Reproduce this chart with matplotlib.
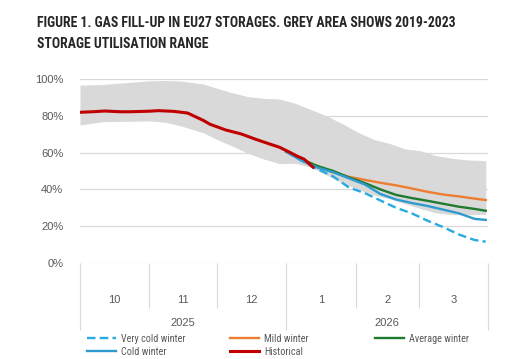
"""
Gas fill-up in EU27 storages, winter 2025/26 scenarios against the
2019-2023 utilisation range.
"""

import matplotlib
matplotlib.use("Agg")
import matplotlib.pyplot as plt
import matplotlib.dates as mdates
import matplotlib.transforms as mtransforms
from matplotlib import font_manager
import numpy as np

# 2019-2023 range (grey band), % full
band_dates = ["2025-10-01", "2025-10-11", "2025-10-21", "2025-11-01", "2025-11-08",
              "2025-11-15", "2025-11-25", "2025-12-01", "2025-12-08", "2025-12-15",
              "2025-12-22", "2025-12-29", "2026-01-05", "2026-01-12", "2026-01-19",
              "2026-01-26", "2026-02-02", "2026-02-09", "2026-02-16", "2026-02-23",
              "2026-03-02", "2026-03-09", "2026-03-16", "2026-03-23", "2026-03-31"]
band_upper = [96.7, 97.0, 98.0, 99.0, 99.2, 98.9, 97.3, 95.0, 92.5, 90.4, 89.5, 89.1,
              86.8, 83.4, 80.0, 75.7, 71.0, 67.2, 65.0, 62.0, 61.0, 58.3, 56.9, 56.0, 55.6]
band_lower = [75.0, 76.8, 77.0, 77.2, 76.5, 74.5, 70.8, 67.2, 63.5, 59.6, 56.5, 54.0,
              54.2, 52.0, 47.8, 43.5, 40.0, 37.0, 35.0, 32.2, 29.5, 27.2, 26.3, 26.2, 26.5]

# historical fill level
hist_dates = ["2025-10-01", "2025-10-08", "2025-10-12", "2025-10-19", "2025-10-23",
              "2025-11-01", "2025-11-05", "2025-11-12", "2025-11-18", "2025-11-25",
              "2025-11-28", "2025-12-05", "2025-12-12", "2025-12-18", "2025-12-25",
              "2025-12-29", "2026-01-02", "2026-01-06", "2026-01-09", "2026-01-13"]
hist_values = [81.9, 82.3, 82.6, 82.2, 82.2, 82.5, 82.8, 82.4, 81.5, 77.5,
               75.4, 72.3, 70.1, 67.4, 64.5, 62.9, 60.5, 58.0, 56.4, 52.0]

# scenarios
scen_dates = ["2026-01-01", "2026-01-08", "2026-01-15", "2026-01-22", "2026-01-29",
              "2026-02-05", "2026-02-12", "2026-02-19", "2026-02-26", "2026-03-05",
              "2026-03-12", "2026-03-19", "2026-03-26", "2026-03-31"]
very_cold = [60.5, 55.5, 51.0, 47.0, 41.0, 38.0, 34.0, 30.0, 27.0, 23.0, 19.5, 15.5, 12.5, 11.6]
cold = [60.5, 55.5, 51.8, 49.3, 46.0, 42.7, 37.5, 34.5, 32.6, 31.0, 29.0, 27.0, 24.0, 23.4]
mild = [60.5, 56.5, 52.5, 49.2, 46.8, 45.2, 43.6, 42.2, 40.5, 38.7, 37.2, 36.2, 35.0, 34.2]
average = [60.5, 56.2, 52.7, 50.0, 46.5, 43.5, 40.0, 37.0, 35.3, 33.8, 32.2, 30.6, 29.4, 28.4]

month_labels = ["10", "11", "12", "1", "2", "3"]
month_starts = ["2025-10-01", "2025-11-01", "2025-12-01", "2026-01-01",
                "2026-02-01", "2026-03-01", "2026-04-01"]
year_labels = ["2025", "2026"]
year_starts = ["2025-10-01", "2026-01-01", "2026-04-01"]

title_lines = ["FIGURE 1. GAS FILL-UP IN EU27 STORAGES. GREY AREA SHOWS 2019-2023",
               "STORAGE UTILISATION RANGE"]

GREY_TXT = "#595959"
LINE = "#D9D9D9"
LABEL_FONT = ["Liberation Sans", "DejaVu Sans"]


def to_num(dates):
    return mdates.date2num(np.array(dates, dtype="datetime64[D]"))


def pick_font(candidates):
    have = {f.name for f in font_manager.fontManager.ttflist}
    for name in candidates:
        if name in have:
            return name
    return "DejaVu Sans"


def main():
    fig = plt.figure(figsize=(5.30, 3.59), dpi=100)
    ax = fig.add_axes([80 / 530, 1 - 263 / 359, 408 / 530, 184 / 359])
    renderer = fig.canvas.get_renderer()
    narrow = pick_font(["Liberation Sans Narrow", "Roboto Condensed",
                        "Open Sans Condensed", "Roboto", "Liberation Sans"])

    ax.fill_between(to_num(band_dates), band_lower, band_upper,
                    color="#D9D9D9", linewidth=0, zorder=1)

    sd = to_num(scen_dates)
    ax.plot(sd, mild, color="#ED7D31", lw=1.7, label="Mild winter", zorder=3)
    ax.plot(sd, average, color="#1E7B30", lw=1.7, label="Average winter", zorder=4)
    ax.plot(sd, cold, color="#2E9BD0", lw=1.7, label="Cold winter", zorder=5)
    ax.plot(sd, very_cold, color="#29AAE1", lw=1.7, ls=(0, (3.6, 1.8)),
            label="Very cold winter", zorder=5)
    ax.plot(to_num(hist_dates), hist_values, color="#C00000", lw=2.2,
            label="Historical", zorder=6)

    ms = to_num(month_starts)
    ys = to_num(year_starts)
    ax.set_xlim(ms[0], ms[-1])
    ax.set_ylim(0, 100)
    ax.set_yticks(range(0, 101, 20))
    ax.set_yticklabels([f"{v}%" for v in range(0, 101, 20)])
    ax.grid(axis="y", color=LINE, lw=0.9)
    ax.set_axisbelow(True)
    for s in ax.spines.values():
        s.set_visible(False)
    ax.tick_params(axis="y", length=0, pad=12, labelsize=8, labelcolor=GREY_TXT)
    for lab in ax.get_yticklabels():
        lab.set_family(LABEL_FONT)

    # two-level category axis under the plot
    ax.set_xticks(ys)
    ax.set_xticks(ms, minor=True)
    ax.set_xticklabels([])
    ax.tick_params(axis="x", which="major", length=48.5, width=0.8, color=LINE)
    ax.tick_params(axis="x", which="minor", length=32.5, width=0.8, color=LINE)

    trans = mtransforms.blended_transform_factory(ax.transData, ax.transAxes)
    for i, lab in enumerate(month_labels):
        ax.text((ms[i] + ms[i + 1]) / 2, -0.2, lab, transform=trans, ha="center",
                va="center", fontsize=8, color=GREY_TXT, family=LABEL_FONT)
    for i, lab in enumerate(year_labels):
        ax.text((ys[i] + ys[i + 1]) / 2, -0.325, lab, transform=trans, ha="center",
                va="center", fontsize=8, color=GREY_TXT, family=LABEL_FONT)

    # legend: three fixed columns, narrow font sized so "Very cold winter" ~64 px
    probe = fig.text(0, 0, "Very cold winter", fontsize=8, family=narrow)
    leg_size = min(8.5, 8 * 64 / probe.get_window_extent(renderer).width)
    probe.remove()

    handles = {h.get_label(): h for h in ax.get_lines()}
    columns = [(["Very cold winter", "Cold winter"], 87),
               (["Mild winter", "Historical"], 230),
               (["Average winter"], 375)]
    for names, xpx in columns:
        leg = fig.legend([handles[n] for n in names], names,
                         loc="upper left", bbox_to_anchor=(xpx / 530, 1 - 334 / 359),
                         frameon=False, fontsize=leg_size, handlelength=2.9,
                         handletextpad=0.45, labelspacing=0.3,
                         borderaxespad=0, borderpad=0,
                         prop={"family": narrow, "size": leg_size})
        for t in leg.get_texts():
            t.set_color(GREY_TXT)

    # title: condensed bold, sized to the reference width
    t1 = fig.text(37 / 530, 1 - 27 / 359, title_lines[0], fontsize=10,
                  fontweight="bold", color="#262626", family=narrow, va="baseline")
    t2 = fig.text(37 / 530, 1 - 48 / 359, title_lines[1], fontsize=10,
                  fontweight="bold", color="#262626", family=narrow, va="baseline")
    w = t1.get_window_extent(renderer).width
    size = 10 * 420 / w
    t1.set_fontsize(size)
    t2.set_fontsize(size)

    fig.savefig("out.png", dpi=100)
    plt.close(fig)


if __name__ == "__main__":
    main()
